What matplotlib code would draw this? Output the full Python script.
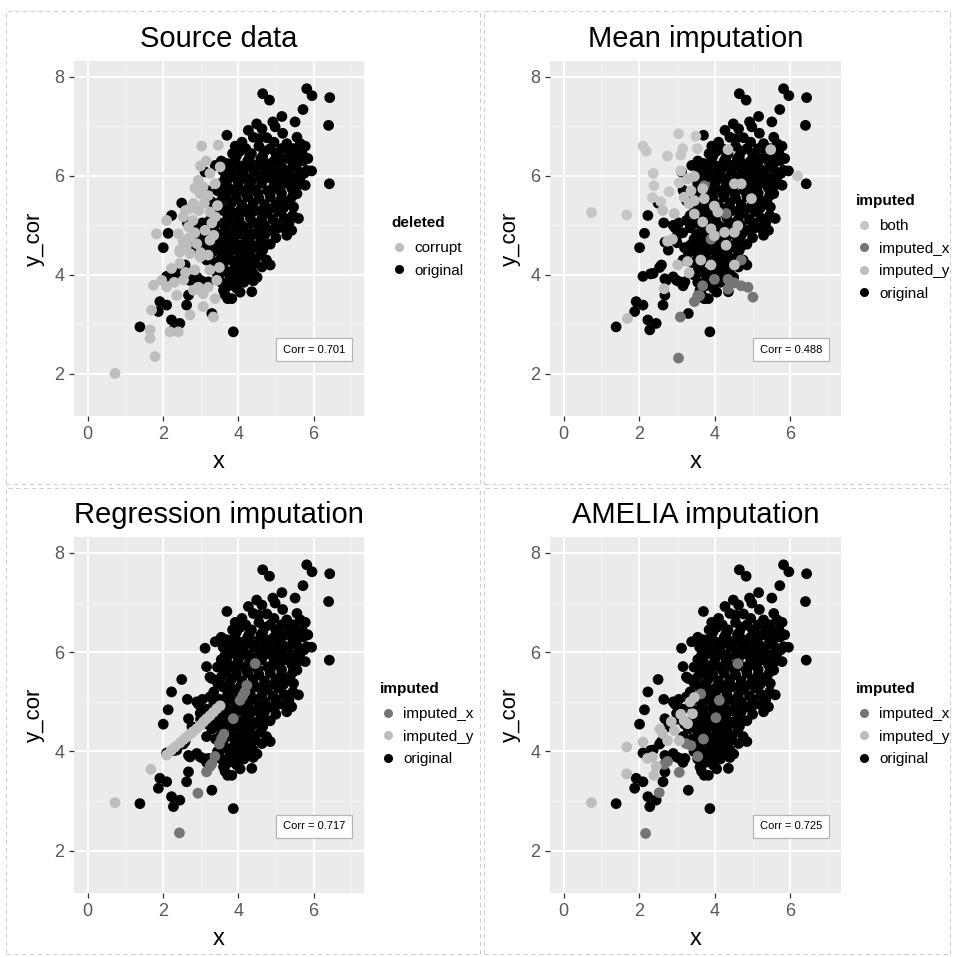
import numpy as np
import matplotlib
matplotlib.use("Agg")
import matplotlib.pyplot as plt
from matplotlib.lines import Line2D
from matplotlib.patches import Rectangle

plt.rcParams['font.family'] = ['Liberation Sans', 'DejaVu Sans']

# ---------------- data ----------------
orig_pts = [
    (4.65,7.66),(4.83,7.53),(5.82,7.76),(5.96,7.62),(6.43,7.58),(6.40,7.02),(6.42,5.84),(5.72,7.34),
    (5.16,7.20),(5.51,7.09),(4.49,7.05),(4.63,6.95),(4.92,7.09),(4.98,6.99),(4.27,6.92),(4.40,6.78),
    (5.18,6.86),(3.70,6.82),(3.92,6.60),(4.76,6.77),(5.56,6.78),(5.65,6.65),(5.29,6.65),(5.47,6.55),
    (5.78,6.60),(5.73,6.31),(5.82,6.11),(5.65,5.98),(5.78,5.81),(5.56,5.64),(5.38,5.51),(5.47,5.37),
    (5.60,5.14),(5.03,4.94),(5.29,4.80),(5.42,4.90),(3.39,6.21),(3.12,6.08),(3.65,5.94),(2.50,5.45),
    (2.23,5.20),(2.14,4.84),(2.01,4.55),
    (2.37,4.03),(2.59,4.20),(2.72,3.89),(3.16,4.30),(2.90,3.96),(3.07,3.86),(3.21,3.86),(1.92,3.46),
    (2.10,3.39),(1.88,3.26),(2.23,3.09),(2.45,3.02),(2.28,2.89),(1.39,2.95),(2.68,3.59),(2.63,3.39),
    (3.30,3.22),(3.87,2.85),(3.61,3.69),(3.83,3.52),(3.96,3.73),(4.36,3.66),(3.52,4.03),(3.78,3.96),
    (3.56,4.16),(4.23,3.96),(4.40,4.03),(4.63,4.16),(4.14,4.30),(4.32,4.43),(4.49,4.57),(4.72,4.60),
    (3.87,4.50),(3.70,4.36),(3.96,4.23),(3.47,4.63),
    (2.10,3.97),(2.30,4.02),(2.65,5.05),(2.68,4.66),(2.77,4.50),(2.90,5.00),(2.99,4.77),(3.16,5.71),
    (3.30,5.47),(2.54,4.15),(2.68,3.92),(2.99,3.89),(3.16,3.78),
    (3.85,6.45),(4.05,6.50),(4.20,6.55),(4.35,6.45),(4.55,6.60),(4.70,6.50),(4.85,6.55),(5.00,6.45),
    (5.15,6.55),(5.35,6.50),(5.55,6.40),(4.10,6.68),(4.95,6.68),(4.55,6.75),
    (3.95,6.40),(4.30,6.38),(4.65,6.40),(5.05,6.38),(5.40,6.40),(5.70,6.45),
    (3.70,6.25),(3.90,6.30),(4.05,6.20),(4.25,6.30),(4.40,6.22),(4.60,6.35),(4.75,6.25),(4.95,6.30),
    (5.10,6.20),(5.25,6.35),(5.45,6.25),(5.62,6.30),(3.55,6.30),(5.85,6.35),
    (3.60,6.10),(3.88,6.18),(4.18,6.15),(4.50,6.18),(4.85,6.12),(5.18,6.15),(5.55,6.15),(5.75,6.05),
    (3.80,6.10),(3.95,5.98),(4.10,6.08),(4.25,5.95),(4.42,6.10),(4.58,5.98),(4.72,6.12),(4.88,5.95),
    (5.02,6.08),(5.18,5.95),(5.32,6.10),(5.48,5.95),(5.95,6.10),(3.55,5.85),
    (3.75,5.95),(4.05,5.92),(4.35,5.90),(4.70,5.95),(5.05,5.92),(5.38,5.90),(5.60,5.82),
    (3.70,5.80),(3.85,5.72),(4.00,5.85),(4.15,5.70),(4.30,5.82),(4.45,5.72),(4.62,5.85),(4.78,5.70),
    (4.95,5.82),(5.10,5.72),(5.25,5.85),(5.42,5.75),(3.45,5.70),
    (3.60,5.65),(3.92,5.68),(4.22,5.62),(4.52,5.65),(4.85,5.65),(5.15,5.65),(5.45,5.60),
    (3.55,5.50),(3.68,5.60),(3.82,5.45),(3.95,5.55),(4.10,5.42),(4.25,5.58),(4.40,5.45),(4.55,5.55),
    (4.70,5.42),(4.85,5.58),(5.00,5.45),(5.15,5.55),(5.28,5.42),(3.25,5.50),
    (3.45,5.38),(3.75,5.35),(4.05,5.30),(4.35,5.35),(4.65,5.30),(4.95,5.35),(5.20,5.35),(5.45,5.20),
    (3.35,5.20),(3.60,5.30),(3.72,5.15),(3.87,5.25),(4.02,5.12),(4.17,5.28),(4.32,5.15),(4.47,5.30),
    (4.62,5.12),(4.77,5.25),(4.92,5.12),(5.07,5.28),(5.22,5.15),(5.35,5.05),(3.05,5.05),
    (3.50,5.05),(3.80,5.05),(4.10,5.00),(4.40,5.05),(4.70,5.00),(5.00,5.05),(5.20,4.95),(3.25,5.10),
    (3.15,4.85),(3.35,4.95),(3.52,4.82),(3.66,4.95),(3.80,4.82),(3.95,4.95),(4.10,4.82),(4.25,4.95),
    (4.40,4.82),(4.55,4.92),(4.70,4.80),(4.85,4.90),(2.95,4.95),
    (3.45,4.72),(3.70,4.75),(3.90,4.75),(4.30,4.75),(4.60,4.72),
    (3.35,4.60),(3.60,4.62),(3.78,4.68),(4.02,4.60),(4.20,4.68),(4.38,4.60),(4.60,4.65),(4.85,4.62),
    (3.00,4.65),(5.00,4.75),
    (3.50,4.50),(3.75,4.50),(4.12,4.50),(4.35,4.52),(4.65,4.50),(3.20,4.55),
    (3.30,4.45),(3.55,4.35),(3.82,4.30),(4.05,4.40),(4.22,4.25),(4.45,4.30),(4.60,4.40),(4.75,4.30),
    (3.40,4.25),
    (3.60,4.20),(3.92,4.18),(4.15,4.12),(4.38,4.20),(4.85,4.20),
    (3.45,4.00),(3.65,4.08),(3.88,4.10),(4.05,3.98),(4.30,4.12),(4.50,3.95),(4.00,4.05),
    (3.55,3.85),(4.15,3.85),(4.40,3.88),
    (3.65,3.60),(3.75,3.78),(3.90,3.85),(4.05,3.65),(3.72,3.52),
]

corrupt_pts = [
    (3.03,6.60),(3.47,6.62),(2.94,5.91),(3.07,5.78),(3.25,6.05),(3.39,5.84),(3.52,6.18),(2.99,5.64),
    (2.81,5.44),(2.72,5.34),(2.54,5.17),(2.68,4.97),(2.10,5.10),(1.83,4.83),(2.41,4.83),(2.54,4.67),
    (3.12,4.90),(3.25,5.27),(3.39,5.17),(3.25,4.70),(2.45,4.50),
    (0.73,2.01),(1.79,2.35),(1.66,2.89),(1.66,2.72),(2.19,2.85),(2.41,2.85),(1.70,3.29),(1.75,3.79),
    (1.97,3.89),(2.10,3.76),(2.37,3.59),(2.72,3.19),(3.07,3.36),(3.34,3.15),(2.23,4.13),(2.45,4.23),
    (2.72,4.43),(2.99,4.36),(3.25,4.10),(3.43,3.89),(3.07,3.62),(3.39,3.52),(2.90,4.63),(2.63,4.60),
    (2.45,4.46),(2.81,3.69),
    (2.85,5.75),(2.95,5.30),(3.10,5.45),(3.20,5.60),(2.60,5.30),(3.30,5.05),(3.45,5.40),(2.80,5.10),
    (2.70,4.75),(2.85,4.85),(3.00,4.45),(3.20,4.40),(3.35,4.80),(2.55,3.90),(2.30,3.85),(2.95,3.75),
    (3.20,3.75),(2.60,4.05),(3.50,4.15),(2.85,4.10),(3.00,6.20),(3.15,6.30),
]

mean_both_pts = [
    (0.74,5.26),(1.67,5.21),(2.10,6.60),(2.19,6.50),(2.37,6.05),(2.39,5.80),(2.35,5.56),(2.57,5.48),
    (2.75,6.40),(2.79,5.68),(3.04,6.85),(3.15,6.55),(3.10,6.42),(3.50,6.80),(3.54,6.55),(3.10,6.10),
    (3.06,5.86),(6.19,6.00),
]
mean_impx_pts = [
    (3.04,2.32),(3.09,3.15),(4.70,3.78),(4.88,3.75),(5.01,3.55),(3.99,3.91),(4.35,3.91),(4.52,3.84),
    (3.68,3.78),(3.55,3.58),(4.30,5.24),(3.72,5.80),(3.46,3.46),(3.60,3.58),(4.35,3.71),(3.90,4.72),
    (4.70,4.30),
]
mean_impy_pts = [
    (3.28,5.94),(3.37,5.70),(3.19,5.57),(3.32,5.44),(2.62,5.30),(2.93,5.24),(3.46,5.99),(3.68,5.74),
    (3.72,5.54),(3.99,5.39),(4.08,5.27),(3.68,5.07),(3.90,4.93),(3.99,4.79),(4.26,4.86),(4.52,4.86),
    (4.61,4.99),(4.52,5.84),(4.70,5.84),(4.97,5.54),(5.48,6.53),(4.35,6.53),(3.46,5.50),(2.75,4.68),
    (2.88,4.72),(3.02,4.20),(3.28,4.27),(3.32,4.04),(3.63,4.30),(3.90,4.20),(2.66,3.72),(1.69,3.12),
    (4.30,4.60),(3.46,5.23),(4.52,4.20),
]

reg_impx_pts = [
    (2.44,2.36),(2.93,3.16),(3.16,3.59),(3.25,3.70),(3.30,3.75),(3.38,3.90),(3.50,4.15),
    (3.56,4.26),(3.62,4.35),(3.87,4.66),(4.05,5.03),(4.12,5.12),(4.18,5.20),
    (4.23,5.33),(4.45,5.77),
]
reg_impy_pts = [
    (0.73,2.97),(1.68,3.64),(2.10,3.93),(2.22,4.02),(2.32,4.09),(2.45,4.17),(2.55,4.24),(2.63,4.29),
    (2.72,4.35),(2.80,4.40),(2.90,4.46),(3.00,4.53),(3.08,4.60),(3.16,4.66),(3.25,4.72),(3.34,4.79),
    (3.43,4.86),(3.52,4.92),
]

amelia_impx_pts = [
    (2.17,2.35),(2.53,3.17),(2.66,3.74),(3.06,3.58),(3.24,4.16),(3.37,4.12),(3.63,5.16),(4.03,4.68),
    (4.12,5.03),(4.61,5.77),(3.55,3.90),(2.75,3.80),(3.70,4.25),
]
amelia_impy_pts = [
    (0.74,2.97),(1.67,4.09),(1.67,3.55),(2.10,4.19),(2.22,3.86),(2.35,3.89),(2.39,3.52),(2.62,4.36),
    (2.75,4.22),(2.93,4.42),(3.19,4.62),(3.41,4.76),(3.46,5.09),(3.28,4.56),(3.06,4.22),(2.55,4.45),
    (2.85,4.60),(3.10,4.75),(3.35,5.00),(2.45,3.70),
]

titles = ["Source data", "Mean imputation", "Regression imputation", "AMELIA imputation"]
corr_labels = ["Corr = 0.701", "Corr = 0.488", "Corr = 0.717", "Corr = 0.725"]
legend_titles = ["deleted", "imputed", "imputed", "imputed"]
x_ticks = [0, 2, 4, 6]
y_ticks = [2, 4, 6, 8]

# ---------------- styling ----------------
C_ORIG = "#000000"
C_LIGHT = "#bdbdbd"
C_BOTH = "#c6c6c6"
C_DARK = "#757575"

W, H = 954, 957
fig = plt.figure(figsize=(W / 100, H / 100), dpi=100)
fig.patch.set_facecolor("white")

# dashed panel frames
for (x0, y0, x1, y1) in [(6, 11, 480, 484), (484, 11, 950, 484), (6, 488, 480, 954), (484, 488, 950, 954)]:
    fig.add_artist(Rectangle((x0 / W, 1 - y1 / H), (x1 - x0) / W, (y1 - y0) / H,
                             transform=fig.transFigure, fill=False, ec="#cfcfcf",
                             lw=0.8, ls=(0, (4, 3))))

ax_rects = [
    [74 / W, 1 - 416 / H, 290 / W, 355 / H],
    [550 / W, 1 - 416 / H, 291 / W, 355 / H],
    [74 / W, 1 - 893 / H, 290 / W, 356 / H],
    [550 / W, 1 - 893 / H, 291 / W, 356 / H],
]
legend_anchor = [(391, 216), (856, 194), (380, 682), (856, 682)]

panel_groups = [
    [("original", orig_pts, C_ORIG), ("corrupt", corrupt_pts, C_LIGHT)],
    [("original", orig_pts, C_ORIG), ("both", mean_both_pts, C_BOTH),
     ("imputed_x", mean_impx_pts, C_DARK), ("imputed_y", mean_impy_pts, C_LIGHT)],
    [("original", orig_pts, C_ORIG), ("imputed_x", reg_impx_pts, C_DARK),
     ("imputed_y", reg_impy_pts, C_LIGHT)],
    [("original", orig_pts, C_ORIG), ("imputed_x", amelia_impx_pts, C_DARK),
     ("imputed_y", amelia_impy_pts, C_LIGHT)],
]
legend_orders = [
    ["corrupt", "original"],
    ["both", "imputed_x", "imputed_y", "original"],
    ["imputed_x", "imputed_y", "original"],
    ["imputed_x", "imputed_y", "original"],
]

for i in range(4):
    ax = fig.add_axes(ax_rects[i])
    ax.set_facecolor("#ebebeb")
    ax.set_xlim(-0.36, 7.34)
    ax.set_ylim(1.15, 8.32)
    ax.set_xticks(x_ticks)
    ax.set_yticks(y_ticks)
    ax.set_xticks([1, 3, 5, 7], minor=True)
    ax.set_yticks([3, 5, 7], minor=True)
    ax.grid(True, which="major", color="white", lw=1.3)
    ax.grid(True, which="minor", color="#f4f4f4", lw=0.6)
    ax.set_axisbelow(True)
    for s in ax.spines.values():
        s.set_visible(False)
    ax.tick_params(which="major", length=3.5, width=0.9, color="#333333",
                   labelsize=13, labelcolor="#5a5a5a", pad=3.5)
    ax.tick_params(which="minor", length=0)
    ax.set_xlabel("x", fontsize=17, labelpad=6)
    ax.set_ylabel("y_cor", fontsize=16, labelpad=7)
    ax.set_title(titles[i], fontsize=21, pad=10)

    colors = {}
    for name, pts, col in panel_groups[i]:
        arr = np.array(pts)
        ax.scatter(arr[:, 0], arr[:, 1], s=60, color=col, edgecolors="none", zorder=3)
        colors[name] = col

    ax.text(6.02, 2.49, corr_labels[i], ha="center", va="center", fontsize=8, zorder=5,
            bbox=dict(boxstyle="square,pad=0.6", fc="white", ec="#b5b5b5", lw=0.9))

    handles = [Line2D([], [], ls="", marker="o", markersize=6.5, color=colors[n],
                      markeredgecolor="none") for n in legend_orders[i]]
    lx, ly = legend_anchor[i]
    leg = ax.legend(handles, legend_orders[i], title=legend_titles[i],
                    loc="upper left", bbox_to_anchor=(lx / W, 1 - ly / H),
                    bbox_transform=fig.transFigure, frameon=False, fontsize=11,
                    title_fontsize=11, handlelength=1.0, handletextpad=0.5,
                    labelspacing=0.55, borderpad=0, borderaxespad=0, alignment="left")
    leg.get_title().set_fontweight("bold")
    try:
        leg._legend_box.sep = 8.2
    except Exception:
        pass

fig.savefig("out.png", dpi=100)
